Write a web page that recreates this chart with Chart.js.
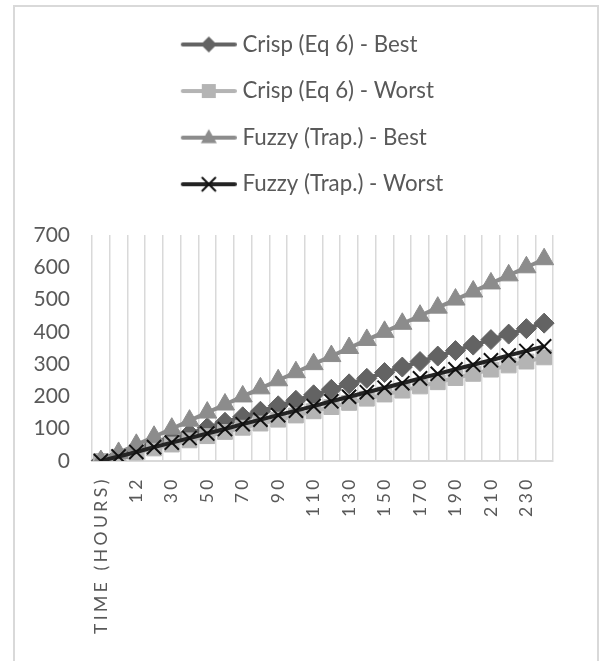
<!DOCTYPE html>
<html>
<head>
<meta charset="utf-8">
<script src="https://cdn.jsdelivr.net/npm/chart.js@4/dist/chart.umd.min.js"></script>
<style>
  html, body { margin: 0; padding: 0; background: #ffffff; }
  #wrap { position: relative; width: 613px; height: 661px; overflow: hidden; }
  #frame { position: absolute; left: 13px; top: 5px; width: 582px; height: 700px;
           border-left: 2px solid #d9d9d9; border-top: 2px solid #d9d9d9; border-right: 2px solid #d9d9d9;
           pointer-events: none; }
  canvas { position: absolute; left: 0; top: 0; }
</style>
</head>
<body>
<div id="wrap">
  <canvas id="c" width="613" height="661"></canvas>
  <div id="frame"></div>
</div>
<script>
// ---- data ----
const categories = ['TIME (HOURS)', '6', '12', '20', '30', '40', '50', '60', '70', '80', '90', '100', '110',
  '120', '130', '140', '150', '160', '170', '180', '190', '200', '210', '220', '230', '240'];

const seriesNames = ['Crisp (Eq 6) - Best', 'Crisp (Eq 6) - Worst', 'Fuzzy (Trap.) - Best', 'Fuzzy (Trap.) - Worst'];

const crispBest  = [0, 17, 34, 51, 68, 85, 103, 120, 137, 154, 171, 188, 205, 222, 239, 256, 274, 291, 308, 325, 342, 359, 376, 393, 410, 427];
const crispWorst = [0, 13, 26, 39, 51, 64, 77, 90, 103, 116, 128, 141, 154, 167, 180, 193, 206, 218, 231, 244, 257, 270, 283, 296, 308, 321];
const fuzzyBest  = [0, 25, 50, 75, 100, 125, 150, 175, 200, 225, 250, 275, 300, 325, 350, 375, 400, 425, 450, 475, 500, 525, 550, 575, 600, 625];
const fuzzyWorst = [0, 14, 28, 43, 57, 71, 85, 99, 114, 128, 142, 156, 170, 185, 199, 213, 227, 241, 256, 270, 284, 298, 312, 327, 341, 355];

const yTicks = [0, 100, 200, 300, 400, 500, 600, 700];

// ---- styles ----
const colors = ['#636363', '#b4b4b4', '#8c8c8c', '#232323'];
const markers = ['rectRot', 'rect', 'triangle', 'crossRot'];
const markerSizes = [10, 10.5, 11, 10];
const textColor = '#595959';
const gridColor = '#d9d9d9';

Chart.defaults.font.family = 'Lato';

function legendImage(color, style) {
  const c = document.createElement('canvas');
  c.width = 126; c.height = 24;
  const g = c.getContext('2d');
  g.strokeStyle = color; g.lineWidth = 4; g.lineCap = 'round';
  g.beginPath(); g.moveTo(72, 12); g.lineTo(124, 12); g.stroke();
  const cx = 98, cy = 12;
  g.fillStyle = color;
  g.beginPath();
  if (style === 'rectRot') {
    g.moveTo(cx - 8, cy); g.lineTo(cx, cy - 8); g.lineTo(cx + 8, cy); g.lineTo(cx, cy + 8); g.closePath(); g.fill();
  } else if (style === 'rect') {
    g.rect(cx - 7, cy - 7, 14, 14); g.fill();
  } else if (style === 'triangle') {
    g.moveTo(cx, cy - 8.5); g.lineTo(cx + 8, cy + 5.5); g.lineTo(cx - 8, cy + 5.5); g.closePath(); g.fill();
  } else {
    g.lineWidth = 2; g.strokeStyle = '#111111';
    g.moveTo(cx - 6.5, cy - 6.5); g.lineTo(cx + 6.5, cy + 6.5);
    g.moveTo(cx + 6.5, cy - 6.5); g.lineTo(cx - 6.5, cy + 6.5); g.stroke();
  }
  return c;
}
const legendImages = colors.map((col, i) => legendImage(col, markers[i]));

const seriesData = [crispBest, crispWorst, fuzzyBest, fuzzyWorst];
const datasets = seriesData.map((d, i) => ({
  label: seriesNames[i],
  data: d,
  borderColor: colors[i],
  backgroundColor: colors[i],
  borderWidth: 4,
  pointStyle: markers[i],
  pointRadius: markerSizes[i],
  pointHoverRadius: markerSizes[i],
  pointBackgroundColor: colors[i],
  pointBorderColor: i === 3 ? '#111111' : colors[i],
  pointBorderWidth: i === 3 ? 2 : 1,
  tension: 0,
  fill: false,
  order: 4 - i
}));

const letterSpacingPlugin = {
  id: 'xLetterSpacing',
  beforeDraw(chart) {
    const s = chart.scales.x;
    if (s && !s._lsPatched) {
      const orig = s.drawLabels.bind(s);
      s.drawLabels = function (area) {
        const ctx = this.ctx;
        ctx.save();
        ctx.letterSpacing = '3.5px';
        orig(area);
        ctx.restore();
      };
      s._lsPatched = true;
    }
  }
};

new Chart(document.getElementById('c'), {
  type: 'line',
  data: { labels: categories, datasets },
  plugins: [letterSpacingPlugin],
  options: {
    responsive: false,
    animation: false,
    devicePixelRatio: 1,
    layout: { padding: { left: 28, top: 9, right: 60, bottom: 0 } },
    plugins: {
      tooltip: { enabled: false },
      title: { display: true, text: '', weight: 500, padding: 0, font: { size: 10, lineHeight: 2.96 } },
      legend: {
        position: 'top',
        align: 'start',
        fullSize: false,
        labels: {
          usePointStyle: true,
          pointStyleWidth: 115,
          padding: 24.3,
          color: textColor,
          font: { size: 22.3 },
          generateLabels(chart) {
            return chart.data.datasets.map((ds, i) => ({
              text: ds.label,
              fillStyle: ds.backgroundColor,
              strokeStyle: ds.borderColor,
              lineWidth: 0,
              hidden: !chart.isDatasetVisible(i),
              datasetIndex: i,
              pointStyle: legendImages[i],
              fontColor: textColor
            }));
          }
        }
      }
    },
    scales: {
      x: {
        type: 'category',
        offset: true,
        grid: { display: true, offset: true, color: gridColor, lineWidth: 1.5, drawTicks: false },
        border: { display: true, color: gridColor, width: 2 },
        ticks: {
          autoSkip: false,
          maxRotation: 90,
          minRotation: 90,
          padding: 15,
          color: textColor,
          font: { size: 17.5 },
          callback: function (value, index) { return index % 2 === 0 ? categories[index] : ''; }
        },
        afterFit(scale) { scale.height = 200; }
      },
      y: {
        min: 0,
        max: 700,
        afterBuildTicks(scale) { scale.ticks = yTicks.map(v => ({ value: v })); },
        grid: { display: false, drawTicks: false },
        border: { display: false },
        ticks: { padding: 22, color: textColor, font: { size: 21 } },
        afterFit(scale) { scale.width = 64; }
      }
    }
  }
});
</script>
</body>
</html>
